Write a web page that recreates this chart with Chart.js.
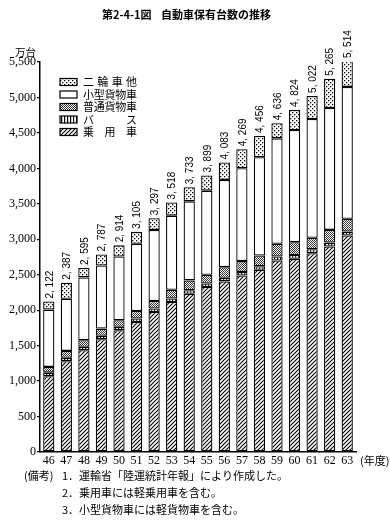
<!DOCTYPE html>
<html>
<head>
<meta charset="utf-8">
<script src="https://cdn.jsdelivr.net/npm/chart.js@4.4.1/dist/chart.umd.min.js"></script>
<style>
  html, body { margin: 0; padding: 0; background: #fff; }
  #wrap { width: 390px; height: 524px; position: relative; }
</style>
</head>
<body>
<div id="wrap"><canvas id="chart"></canvas></div>
<script>
// Fiscal years (Showa era)
const years = ['46','47','48','49','50','51','52','53','54','55','56','57','58','59','60','61','62','63'];

// Vehicles owned, in 10,000 units (万台)
const passengerCars = [1069, 1280, 1435, 1590, 1716, 1833, 1974, 2115, 2232, 2326, 2406, 2490, 2570, 2701, 2724, 2804, 2898, 3053];
const buses         = [50, 50, 50, 50, 50, 50, 50, 50, 50, 50, 50, 50, 50, 55, 55, 55, 55, 55];
const normalTrucks  = [81, 96, 91, 100, 91, 105, 105, 124, 138, 124, 151, 152, 151, 180, 180, 161, 179, 180];
const smallTrucks   = [808, 736, 886, 891, 901, 948, 1003, 1044, 1115, 1186, 1230, 1309, 1385, 1487, 1582, 1676, 1719, 1861];
const motorcycles   = [114, 225, 133, 156, 156, 169, 165, 185, 198, 213, 246, 268, 300, 213, 283, 326, 414, 365];
const totals        = [2122, 2387, 2595, 2787, 2914, 3105, 3297, 3518, 3733, 3899, 4083, 4269, 4456, 4636, 4824, 5022, 5265, 5514];

const yTicks = [0, 500, 1000, 1500, 2000, 2500, 3000, 3500, 4000, 4500, 5000, 5500];

const notes = [
  '1．運輸省「陸運統計年報」により作成した。',
  '2．乗用車には軽乗用車を含む。',
  '3．小型貨物車には軽貨物車を含む。'
];

const jpFont = "'Noto Sans CJK JP', 'Noto Sans', sans-serif";
const numFont = "'Liberation Serif', 'DejaVu Serif', serif";

// Monochrome fill patterns like the printed figure
function makePattern(w, h, draw) {
  const c = document.createElement('canvas');
  c.width = w; c.height = h;
  const g = c.getContext('2d');
  g.fillStyle = '#fff';
  g.fillRect(0, 0, w, h);
  g.fillStyle = '#000';
  g.strokeStyle = '#000';
  draw(g);
  return g.createPattern(c, 'repeat');
}

const hatchFill = makePattern(4, 4, g => {
  g.lineWidth = 1.1;
  g.beginPath();
  g.moveTo(-1, 5); g.lineTo(5, -1);
  g.moveTo(-3, 3); g.lineTo(3, -3);
  g.moveTo(1, 7); g.lineTo(7, 1);
  g.stroke();
});
const stripeFill = makePattern(3, 3, g => { g.fillRect(1, 0, 1.2, 3); });
const checkFill = makePattern(2, 2, g => {
  g.fillStyle = '#333';
  g.fillRect(0, 0, 1, 1);
  g.fillRect(1, 1, 1, 1);
});
const dotFill = makePattern(4, 4, g => {
  g.fillRect(0, 0, 1.3, 1.3);
  g.fillRect(2, 2, 1.3, 1.3);
});

function seg(label, data, fill) {
  return {
    label: label,
    data: data,
    backgroundColor: fill,
    borderColor: '#000',
    borderWidth: 1.3,
    borderSkipped: false,
    barPercentage: 0.64,
    categoryPercentage: 1
  };
}

// Draws title, unit, legend, total labels and footnotes
const annotations = {
  id: 'annotations',
  afterDatasetsDraw(chart) {
    const ctx = chart.ctx;
    const area = chart.chartArea;
    ctx.save();
    ctx.fillStyle = '#000';

    // title
    ctx.font = 'bold 11px ' + jpFont;
    ctx.textBaseline = 'middle';
    ctx.textAlign = 'left';
    ctx.fillText('第2-4-1図', 102, 15);
    ctx.fillText('自動車保有台数の推移', 161, 15);

    // unit
    ctx.font = '10.5px ' + jpFont;
    ctx.fillText('万台', 15, 52);

    // totals, vertical above each bar
    const topMeta = chart.getDatasetMeta(chart.data.datasets.length - 1);
    ctx.font = '10px ' + "'Liberation Sans', Arial, sans-serif";
    totals.forEach((t, i) => {
      const bar = topMeta.data[i];
      ctx.save();
      ctx.translate(bar.x + 1, bar.y - 3);
      ctx.rotate(-Math.PI / 2);
      ctx.textAlign = 'left';
      ctx.textBaseline = 'middle';
      ctx.fillText(t.toLocaleString('en-US').replace(',', ', '), 0, 0);
      ctx.restore();
    });

    // legend (reverse stacking order)
    const ds = chart.data.datasets.slice().reverse();
    ctx.font = '11px ' + jpFont;
    ds.forEach((d, k) => {
      const y = 82 + k * 12.5;
      ctx.fillStyle = d.backgroundColor;
      ctx.fillRect(60, y - 3.5, 17, 7);
      ctx.strokeStyle = '#000';
      ctx.lineWidth = 1.2;
      ctx.strokeRect(60, y - 3.5, 17, 7);
      ctx.fillStyle = '#000';
      const chars = Array.from(d.label);
      const span = 54 - 11;
      chars.forEach((ch, j) => {
        const x = chars.length > 1 ? 83 + span * j / (chars.length - 1) : 83;
        ctx.fillText(ch, x, y);
      });
    });

    // x unit
    ctx.font = '11px ' + jpFont;
    ctx.fillText('(年度)', area.right + 4, 461);

    // footnotes
    ctx.font = '11px ' + jpFont;
    ctx.fillText('(備考)', 24, 476);
    notes.forEach((n, k) => ctx.fillText(n, 62, 476 + k * 17));
    ctx.restore();
  }
};

new Chart(document.getElementById('chart'), {
  type: 'bar',
  data: {
    labels: years,
    datasets: [
      seg('乗用車', passengerCars, hatchFill),
      seg('バス', buses, stripeFill),
      seg('普通貨物車', normalTrucks, checkFill),
      seg('小型貨物車', smallTrucks, '#fff'),
      seg('二輪車他', motorcycles, dotFill)
    ]
  },
  options: {
    responsive: true,
    maintainAspectRatio: false,
    animation: false,
    layout: { padding: { top: 62, right: 34, bottom: 52, left: 0 } },
    plugins: {
      legend: { display: false },
      tooltip: { enabled: false }
    },
    scales: {
      x: {
        stacked: true,
        offset: true,
        grid: { display: false, drawTicks: false, tickLength: 0 },
        border: { display: true, color: '#000', width: 1.5 },
        ticks: {
          color: '#000',
          padding: 2,
          minRotation: 0,
          maxRotation: 0,
          autoSkip: false,
          font: { family: numFont, size: 12 }
        },
        afterFit: s => { s.height = 20; }
      },
      y: {
        stacked: true,
        min: 0,
        max: 5500,
        afterBuildTicks: s => { s.ticks = yTicks.map(v => ({ value: v })); },
        grid: { drawOnChartArea: false, color: '#000', tickLength: 3, lineWidth: 1.2 },
        border: { display: true, color: '#000', width: 1.5 },
        ticks: {
          color: '#000',
          padding: 1,
          font: { family: numFont, size: 12 },
          callback: v => v.toLocaleString('en-US')
        },
        afterFit: s => { s.width = 40; }
      }
    }
  },
  plugins: [annotations]
});
</script>
</body>
</html>
